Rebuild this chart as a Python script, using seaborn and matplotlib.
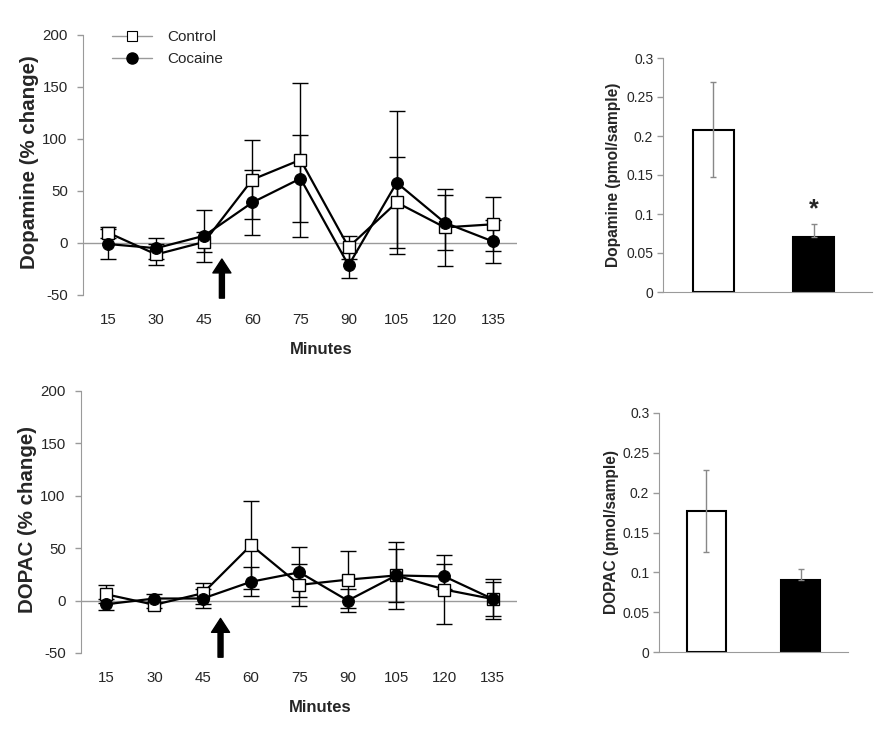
import matplotlib
matplotlib.use("Agg")
import matplotlib.pyplot as plt
from matplotlib.lines import Line2D
import pandas as pd
import seaborn as sns

sns.set_style("white")
plt.rcParams['font.family'] = ['Liberation Sans', 'DejaVu Sans']
plt.rcParams['axes.unicode_minus'] = False

minutes = [15, 30, 45, 60, 75, 90, 105, 120, 135]

# dopamine % change
da_control = [10, -11, 1, 61, 80, -4, 39, 15, 18]
da_control_err = [5, 10, 10, 38, 74, 11, 44, 37, 26]
da_cocaine = [-1, -5, 7, 39, 62, -21.5, 58, 19.5, 1.5]
da_cocaine_err = [14, 10, 25, 31, 42, 12.5, 69, 26.5, 21]

# DOPAC % change
dp_control = [6, -4, 7, 53, 15, 20, 24, 10.5, 1.5]
dp_control_err = [8.5, 3, 10, 42, 20, 27.5, 32, 33, 19]
dp_cocaine = [-3.5, 2, 2, 18, 27, 0, 24, 23, 1.5]
dp_cocaine_err = [5.5, 4, 9, 14, 24, 11, 25, 12, 16]

# basal levels (pmol/sample)
groups = ['Control', 'Cocaine']
da_bar = [0.208, 0.071]
da_bar_err = [0.061, 0.016]
dp_bar = [0.177, 0.090]
dp_bar_err = [0.051, 0.014]

GRAY = '#9a9a9a'
W, H = 879, 729

fig = plt.figure(figsize=(8.79, 7.29), dpi=100)


def px_axes(x0, x1, ytop, ybot):
    return fig.add_axes([x0 / W, 1 - ybot / H, (x1 - x0) / W, (ybot - ytop) / H])


def time_panel(ax, ctrl, ctrl_err, coc, coc_err, ylabel, arrow_y, lab_x):
    df = pd.DataFrame({'Minutes': minutes, 'Control': ctrl, 'Cocaine': coc})
    ax.axhline(0, color=GRAY, lw=1, zorder=1)
    ax.errorbar(minutes, ctrl, yerr=ctrl_err, fmt='none', ecolor='black',
                elinewidth=1, capsize=5.5, capthick=1, zorder=2)
    ax.errorbar(minutes, coc, yerr=coc_err, fmt='none', ecolor='black',
                elinewidth=1, capsize=5.5, capthick=1, zorder=2)
    sns.lineplot(data=df, x='Minutes', y='Control', ax=ax, color='black', lw=1.6,
                 marker='s', markersize=8, markerfacecolor='white',
                 markeredgecolor='black', markeredgewidth=1, zorder=3)
    sns.lineplot(data=df, x='Minutes', y='Cocaine', ax=ax, color='black', lw=1.6,
                 marker='o', markersize=8.5, markerfacecolor='black',
                 markeredgecolor='black', zorder=4)
    ax.set_xlim(7.2, 142.5)
    ax.set_ylim(-50, 200)
    ax.set_xticks(minutes)
    ax.set_xticklabels([str(m) for m in minutes])
    ax.set_yticks([-50, 0, 50, 100, 150, 200])
    ax.tick_params(axis='x', length=0, pad=13, labelsize=10.8)
    ax.tick_params(axis='y', length=4, width=1, color=GRAY, pad=7,
                   labelsize=10.8, direction='out', left=True)
    for s in ['top', 'right', 'bottom']:
        ax.spines[s].set_visible(False)
    ax.spines['left'].set_color(GRAY)
    ax.set_xlabel('Minutes', fontsize=12, fontweight='bold')
    ax.xaxis.set_label_coords(0.548, -0.18)
    ax.set_ylabel(ylabel, fontsize=14.8, fontweight='bold')
    ax.yaxis.set_label_coords(lab_x, 0.51)
    ax.annotate('', xy=(50.5, arrow_y[0]), xytext=(50.5, arrow_y[1]),
                arrowprops=dict(facecolor='black', edgecolor='black', width=3.6,
                                headwidth=13, headlength=10),
                annotation_clip=False)


def bar_panel(ax, vals, errs, ylabel, xmax, lab_x):
    df = pd.DataFrame({'group': groups, 'value': vals})
    sns.barplot(data=df, x='group', y='value', hue='group', ax=ax,
                palette=['white', 'black'], edgecolor='black', linewidth=1.5,
                width=0.41, errorbar=None, legend=False, zorder=2)
    ax.errorbar([0, 1], vals, yerr=[[errs[0], 0], errs], fmt='none',
                ecolor='#888888', elinewidth=1, capsize=2.5, capthick=1, zorder=3)
    ax.set_xlim(-0.5, xmax)
    ax.set_ylim(0, 0.3)
    ax.set_yticks([0, 0.05, 0.1, 0.15, 0.2, 0.25, 0.3])
    ax.set_yticklabels(['0', '0.05', '0.1', '0.15', '0.2', '0.25', '0.3'])
    ax.set_xticks([])
    ax.set_xlabel('')
    ax.tick_params(axis='y', length=4, width=1, color=GRAY, pad=3,
                   labelsize=10, direction='out', left=True)
    for s in ['top', 'right']:
        ax.spines[s].set_visible(False)
    ax.spines['left'].set_color(GRAY)
    ax.spines['bottom'].set_color(GRAY)
    ax.set_ylabel(ylabel, fontsize=11.2, fontweight='bold')
    ax.yaxis.set_label_coords(lab_x, 0.5)


ax1 = px_axes(83, 517, 35, 295)
time_panel(ax1, da_control, da_control_err, da_cocaine, da_cocaine_err,
           'Dopamine (% change)', (-15.4, -53), -0.102)
handles = [
    Line2D([], [], color=GRAY, lw=1, marker='s', markersize=7.5,
           markerfacecolor='white', markeredgecolor='black', markeredgewidth=0.8),
    Line2D([], [], color=GRAY, lw=1, marker='o', markersize=8,
           markerfacecolor='black', markeredgecolor='black'),
]
ax1.legend(handles, groups, loc='upper left', bbox_to_anchor=(0.067, 1.018),
           frameon=False, fontsize=11, handlelength=2.6, handletextpad=1.0,
           labelspacing=0.5, borderpad=0, borderaxespad=0)

ax2 = px_axes(81, 517, 391, 653)
time_panel(ax2, dp_control, dp_control_err, dp_cocaine, dp_cocaine_err,
           'DOPAC (% change)', (-17, -54), -0.102)

ax3 = px_axes(663, 872, 58, 292)
bar_panel(ax3, da_bar, da_bar_err, 'Dopamine (pmol/sample)', 1.58, -0.2)
ax3.text(1, 0.106, '*', ha='center', va='center', fontsize=18, fontweight='bold')

ax4 = px_axes(659, 848, 413, 652)
bar_panel(ax4, dp_bar, dp_bar_err, 'DOPAC (pmol/sample)', 1.5, -0.213)

fig.savefig('out.png', dpi=100)
